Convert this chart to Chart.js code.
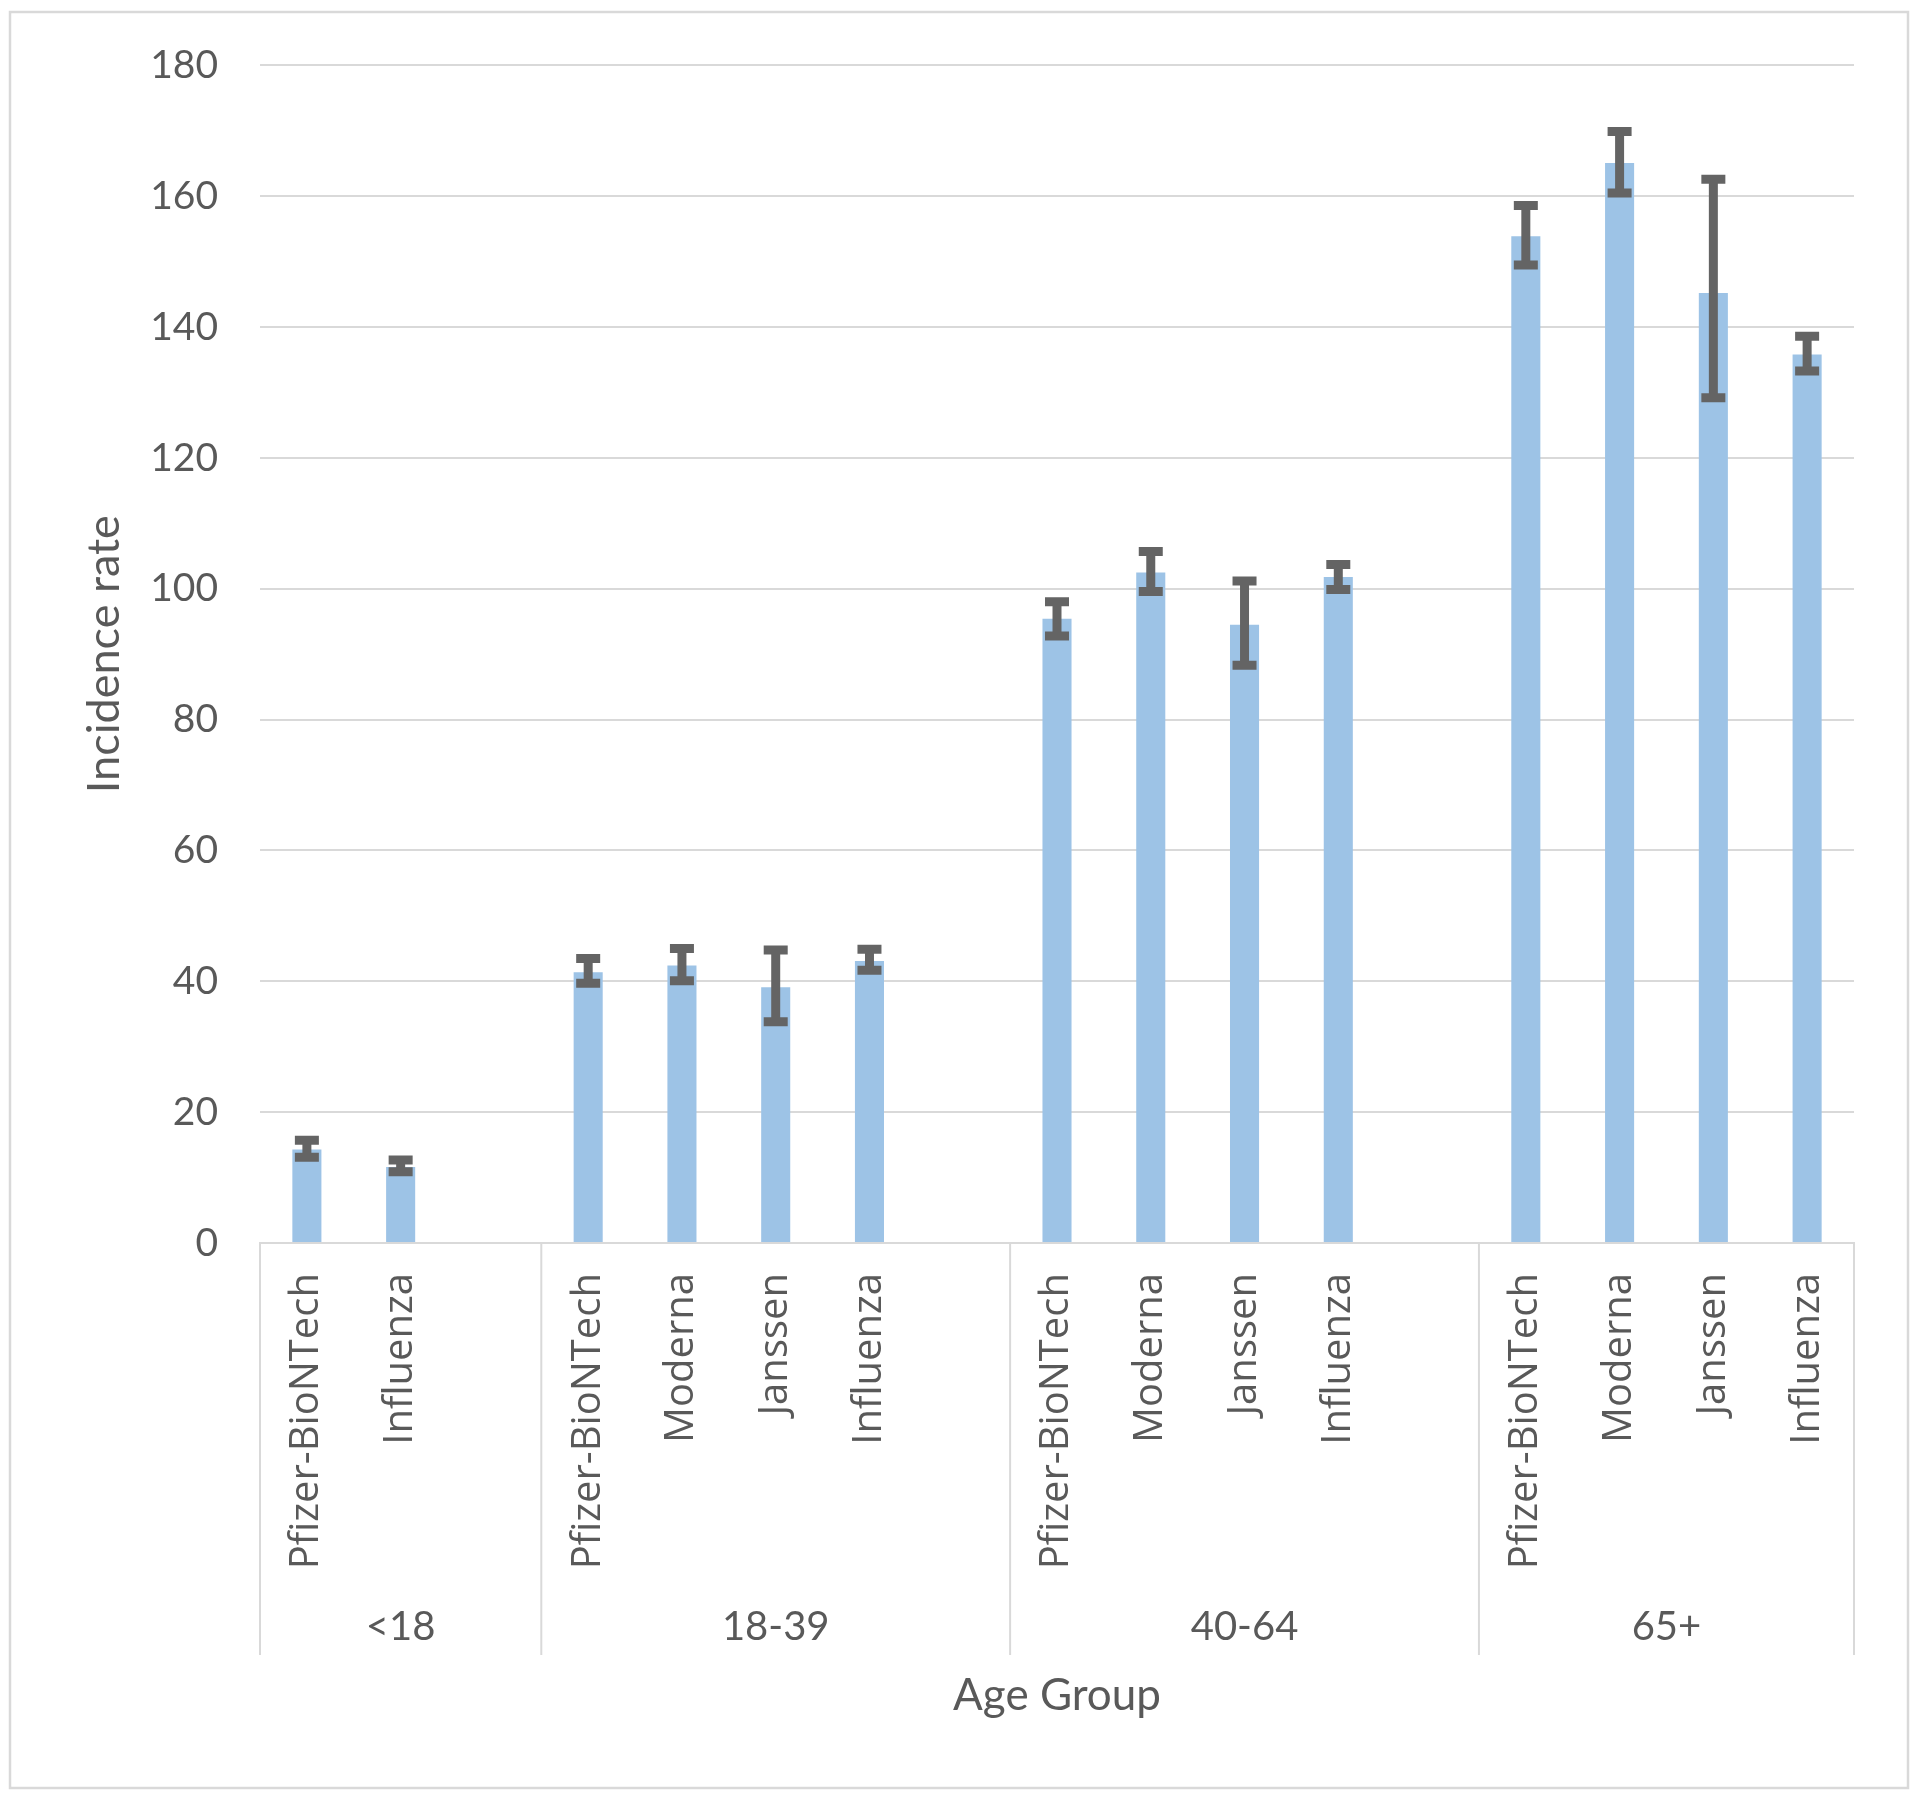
<!DOCTYPE html>
<html>
<head>
<meta charset="utf-8">
<title>Incidence rate by age group</title>
<script src="https://cdn.jsdelivr.net/npm/chart.js@4.4.1/dist/chart.umd.min.js"></script>
<style>
  html, body { margin: 0; padding: 0; background: #fff; }
  #chart { display: block; width: 1920px; height: 1796px; }
</style>
</head>
<body>
<canvas id="chart" width="1920" height="1796"></canvas>
<script>
"use strict";

// slots of the category axis; "" = empty gap slot between age groups
const vaccines = [
  "Pfizer-BioNTech", "Influenza", "",
  "Pfizer-BioNTech", "Moderna", "Janssen", "Influenza", "",
  "Pfizer-BioNTech", "Moderna", "Janssen", "Influenza", "",
  "Pfizer-BioNTech", "Moderna", "Janssen", "Influenza",
];
const ageGroups = [
  "<18", "<18", "<18",
  "18-39", "18-39", "18-39", "18-39", "18-39",
  "40-64", "40-64", "40-64", "40-64", "40-64",
  "65+", "65+", "65+", "65+",
];
const rates  = [14.3, 11.6, null, 41.4, 42.4, 39.1, 43.1, null, 95.4, 102.5, 94.5, 101.8, null, 153.9, 165.1, 145.2, 135.8];
const ciLow  = [13.1, 10.9, null, 39.7, 40.1, 33.8, 41.7, null, 92.8,  99.6, 88.3,  99.9, null, 149.5, 160.5, 129.2, 133.3];
const ciHigh = [15.7, 12.7, null, 43.5, 45.0, 44.8, 44.9, null, 98.0, 105.7, 101.2, 103.7, null, 158.6, 169.9, 162.6, 138.6];
const yTicks = [0, 20, 40, 60, 80, 100, 120, 140, 160, 180];

const colors = {
  bar: "#9dc3e6", err: "#646464", text: "#595959", line: "#d9d9d9",
};

// error bars drawn through the y scale
const errorBars = {
  id: "errorBars",
  afterDatasetsDraw(chart) {
    const { ctx } = chart;
    const y = chart.scales.y;
    const bars = chart.getDatasetMeta(0).data;
    ctx.save();
    ctx.strokeStyle = colors.err;
    ctx.lineCap = "butt";
    rates.forEach((v, i) => {
      if (v == null) return;
      const x = bars[i].x;
      const lo = y.getPixelForValue(ciLow[i]);
      const hi = y.getPixelForValue(ciHigh[i]);
      ctx.lineWidth = 9;
      ctx.beginPath();
      ctx.moveTo(x, lo); ctx.lineTo(x, hi);
      ctx.stroke();
      ctx.beginPath();
      ctx.moveTo(x - 12, lo); ctx.lineTo(x + 12, lo);
      ctx.moveTo(x - 12, hi); ctx.lineTo(x + 12, hi);
      ctx.stroke();
    });
    ctx.restore();
  },
};

// second level of the category axis (age groups) + outer frame
const groupAxis = {
  id: "groupAxis",
  afterDraw(chart) {
    const { ctx, chartArea } = chart;
    const x = chart.scales.x;
    const groups = [...new Set(ageGroups)];
    const lineBottom = 1655;
    ctx.save();
    ctx.strokeStyle = colors.line;
    ctx.lineWidth = 2;
    ctx.fillStyle = colors.text;
    ctx.font = "40px Lato";
    ctx.textAlign = "center";
    ctx.textBaseline = "middle";
    groups.forEach((g, gi) => {
      const first = ageGroups.indexOf(g);
      const last = ageGroups.lastIndexOf(g);
      const x0 = x.getPixelForValue(first - 0.5);
      const x1 = x.getPixelForValue(last + 0.5);
      ctx.beginPath();
      ctx.moveTo(x0, chartArea.bottom); ctx.lineTo(x0, lineBottom);
      if (gi === groups.length - 1) {
        ctx.moveTo(x1, chartArea.bottom); ctx.lineTo(x1, lineBottom);
      }
      ctx.stroke();
      ctx.fillText(g, (x0 + x1) / 2, 1627);
    });
    ctx.lineWidth = 2.5;
    ctx.strokeRect(10, 12, 1898, 1776);
    ctx.restore();
  },
};

new Chart(document.getElementById("chart"), {
  type: "bar",
  data: {
    labels: vaccines,
    datasets: [{
      data: rates,
      backgroundColor: colors.bar,
      categoryPercentage: 1,
      barPercentage: 0.31,
    }],
  },
  plugins: [errorBars, groupAxis],
  options: {
    responsive: false,
    animation: false,
    layout: { padding: { top: 65, right: 66, bottom: 0, left: 0 } },
    plugins: { legend: { display: false }, tooltip: { enabled: false } },
    scales: {
      x: {
        grid: { display: false },
        border: { display: true, color: colors.line, width: 2 },
        ticks: {
          autoSkip: false, minRotation: 90, maxRotation: 90, padding: 22,
          color: colors.text, font: { family: "'Open Sans', 'Noto Sans', sans-serif", size: 40 },
        },
        title: {
          display: true, text: "Age Group", color: colors.text,
          font: { family: "Lato", size: 44 }, padding: { top: 0, bottom: 74 },
        },
        afterFit: (s) => { s.height = 553; },
      },
      y: {
        min: 0, max: 180,
        afterBuildTicks: (s) => { s.ticks = yTicks.map((v) => ({ value: v })); },
        grid: { color: colors.line, lineWidth: 2, drawTicks: false },
        border: { display: false },
        ticks: { padding: 42, color: colors.text, font: { family: "Lato", size: 39 } },
        title: {
          display: true, text: "Incidence rate", color: colors.text,
          font: { family: "Lato", size: 45 }, padding: { top: 77, bottom: 0 },
        },
        afterFit: (s) => { s.width = 260; },
      },
    },
  },
});
</script>
</body>
</html>
